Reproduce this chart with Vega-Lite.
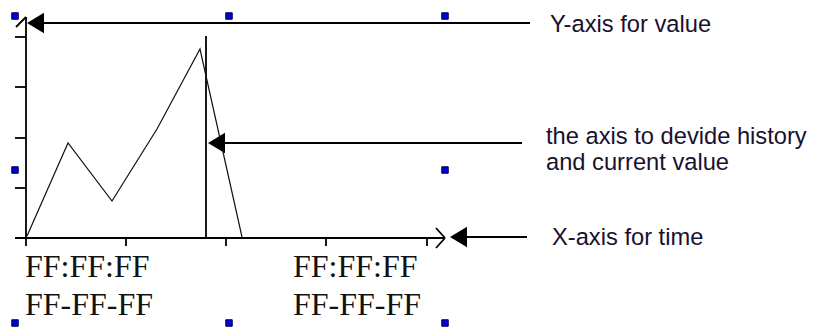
{
  "$schema": "https://vega.github.io/schema/vega-lite/v6.json",
  "width": 815,
  "height": 329,
  "padding": 0,
  "autosize": {"type": "none"},
  "background": "white",
  "config": {"view": {"stroke": null}},
  "datasets": {
    "segs": [
      {"x": 26, "y": 17, "x2": 26, "y2": 238},
      {"x": 16, "y": 27, "x2": 26, "y2": 17},
      {"x": 15, "y": 37, "x2": 26, "y2": 37},
      {"x": 15, "y": 87, "x2": 26, "y2": 87},
      {"x": 15, "y": 138, "x2": 26, "y2": 138},
      {"x": 15, "y": 188, "x2": 26, "y2": 188},
      {"x": 15, "y": 238, "x2": 445, "y2": 238},
      {"x": 26, "y": 238, "x2": 26, "y2": 246},
      {"x": 126, "y": 238, "x2": 126, "y2": 246},
      {"x": 226, "y": 238, "x2": 226, "y2": 246},
      {"x": 326, "y": 238, "x2": 326, "y2": 246},
      {"x": 427, "y": 238, "x2": 427, "y2": 246},
      {"x": 436, "y": 228, "x2": 445, "y2": 238},
      {"x": 436, "y": 248, "x2": 445, "y2": 238},
      {"x": 44, "y": 23, "x2": 530, "y2": 23},
      {"x": 206, "y": 36, "x2": 206, "y2": 238},
      {"x": 224, "y": 143, "x2": 522, "y2": 143},
      {"x": 467, "y": 237, "x2": 527, "y2": 237}
    ],
    "series": [
      {"i": 0, "x": 27, "y": 236},
      {"i": 1, "x": 68, "y": 143},
      {"i": 2, "x": 112, "y": 201},
      {"i": 3, "x": 157, "y": 129},
      {"i": 4, "x": 200, "y": 49},
      {"i": 5, "x": 242, "y": 237}
    ],
    "arrows": [
      {"x": 35.5, "y": 23},
      {"x": 216.5, "y": 143},
      {"x": 458.5, "y": 237}
    ],
    "handles": [
      {"x": 15, "y": 16}, {"x": 229, "y": 16}, {"x": 445, "y": 16},
      {"x": 15, "y": 170}, {"x": 445, "y": 170},
      {"x": 15, "y": 323}, {"x": 229, "y": 323}, {"x": 445, "y": 323}
    ],
    "timelabels": [
      {"x": 25, "y": 277, "t": "FF:FF:FF"},
      {"x": 25, "y": 315, "t": "FF-FF-FF"},
      {"x": 293, "y": 277, "t": "FF:FF:FF"},
      {"x": 293, "y": 315, "t": "FF-FF-FF"}
    ],
    "notes": [
      {"x": 550, "y": 32, "t": "Y-axis for value"},
      {"x": 546, "y": 144, "t": "the axis to devide history"},
      {"x": 546, "y": 170, "t": "and current value"},
      {"x": 552, "y": 245, "t": "X-axis for time"}
    ]
  },
  "encoding": {
    "x": {"field": "x", "type": "quantitative", "axis": null, "scale": {"domain": [0, 815], "nice": false, "zero": false}},
    "y": {"field": "y", "type": "quantitative", "axis": null, "scale": {"domain": [0, 329], "nice": false, "zero": false, "reverse": true}}
  },
  "layer": [
    {
      "data": {"name": "segs"},
      "mark": {"type": "rule", "color": "black", "strokeWidth": 1.8},
      "encoding": {"x2": {"field": "x2"}, "y2": {"field": "y2"}}
    },
    {
      "data": {"name": "series"},
      "mark": {"type": "line", "color": "#111", "strokeWidth": 1.2},
      "encoding": {"order": {"field": "i", "type": "quantitative"}}
    },
    {
      "data": {"name": "arrows"},
      "mark": {"type": "point", "shape": "M-1,0L1,-1.2L1,1.2Z", "size": 289, "filled": true, "color": "black", "opacity": 1}
    },
    {
      "data": {"name": "handles"},
      "mark": {"type": "point", "shape": "square", "size": 42, "filled": true, "fill": "#0000dd", "stroke": "#000044", "strokeWidth": 1, "opacity": 1}
    },
    {
      "data": {"name": "timelabels"},
      "mark": {"type": "text", "align": "left", "baseline": "alphabetic", "font": "Liberation Serif", "fontSize": 32, "color": "#111"},
      "encoding": {"text": {"field": "t"}}
    },
    {
      "data": {"name": "notes"},
      "mark": {"type": "text", "align": "left", "baseline": "alphabetic", "font": "Liberation Sans", "fontSize": 23.7, "color": "#1a1030"},
      "encoding": {"text": {"field": "t"}}
    }
  ]
}
